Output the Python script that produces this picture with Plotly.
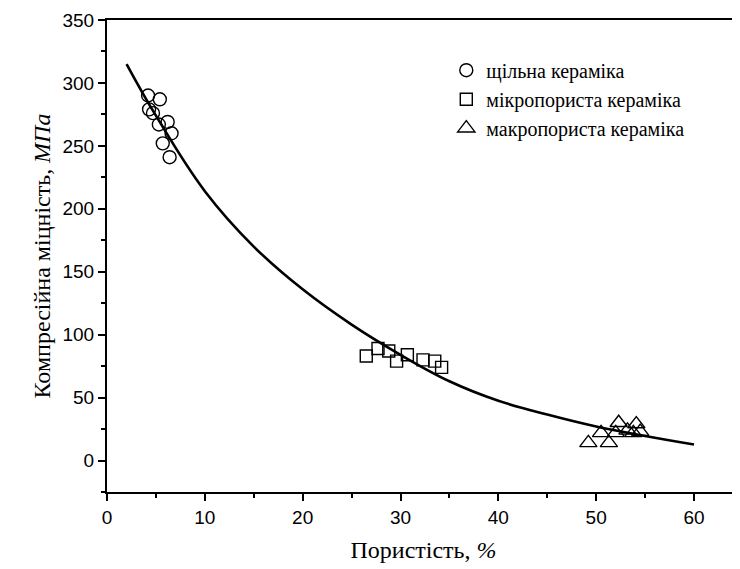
import plotly.graph_objects as go

# щільна кераміка (circles)
dense_x = [4.2, 5.4, 4.3, 4.7, 5.3, 6.2, 6.6, 5.7, 6.4]
dense_y = [290, 287, 279, 276, 267, 269, 260, 252, 241]

# мікропориста кераміка (squares)
micro_x = [26.5, 27.7, 28.8, 29.6, 30.7, 32.3, 33.5, 34.2]
micro_y = [83, 89, 87, 79, 84, 80, 79, 74]

# макропориста кераміка (triangles)
macro_x = [49.2, 50.5, 51.3, 52.3, 52.0, 53.2, 54.1, 53.8, 54.5]
macro_y = [14, 22, 14, 30, 22, 24, 29, 22, 23]

# fitted curve
fit_x = [2, 5, 10, 15, 20, 25, 30, 35, 40, 45, 50, 55, 60]
fit_y = [315, 274, 214, 170, 136, 108, 84, 63, 47.5, 36.5, 27, 19.5, 12.7]

serif = "Liberation Serif"
sans = "Liberation Sans"

fig = go.Figure()

fig.add_trace(go.Scatter(
    x=fit_x, y=fit_y, mode="lines",
    line=dict(color="black", width=2.6, shape="spline", smoothing=1.1),
    showlegend=False, hoverinfo="skip"
))

fig.add_trace(go.Scatter(
    x=dense_x, y=dense_y, mode="markers", name="щільна кераміка",
    marker=dict(symbol="circle-open", size=13, color="black", line=dict(width=1.4))
))
fig.add_trace(go.Scatter(
    x=micro_x, y=micro_y, mode="markers", name="мікропориста кераміка",
    marker=dict(symbol="square-open", size=12, color="black", line=dict(width=1.4))
))
fig.add_trace(go.Scatter(
    x=macro_x, y=macro_y, mode="markers", name="макропориста кераміка",
    marker=dict(symbol="triangle-up-open", size=15, color="black", line=dict(width=1.4))
))

# page body has an 8px margin, so the figure is a bit smaller than the window
fig.update_layout(
    width=732, height=561,
    margin=dict(l=99, r=0, t=12, b=77),
    paper_bgcolor="white", plot_bgcolor="white",
    legend=dict(
        x=0.536, y=0.935, xanchor="left", yanchor="top",
        font=dict(family=serif, size=20, color="black"),
        bgcolor="rgba(0,0,0,0)", tracegroupgap=0, itemwidth=30
    ),
    xaxis=dict(
        range=[0, 64.7], showgrid=False, zeroline=False,
        showline=True, linecolor="black", linewidth=2, mirror=True,
        ticks="outside", ticklen=7, tickwidth=2, tickcolor="black",
        dtick=10, tick0=0,
        minor=dict(dtick=5, ticks="outside", ticklen=4, tickwidth=2, tickcolor="black"),
        tickfont=dict(family=sans, size=19, color="black"),
        title=dict(text="Пористість, <i>%</i>", font=dict(family=serif, size=24, color="black"),
                   standoff=14),
    ),
    yaxis=dict(
        range=[-25, 350], showgrid=False, zeroline=False,
        showline=True, linecolor="black", linewidth=2,
        ticks="outside", ticklen=7, tickwidth=2, tickcolor="black",
        dtick=50, tick0=0,
        minor=dict(dtick=25, ticks="outside", ticklen=4, tickwidth=2, tickcolor="black"),
        tickfont=dict(family=sans, size=19, color="black"),
        title=dict(text="Компресійна міцність, <i>МПа</i>",
                   font=dict(family=serif, size=24, color="black"), standoff=5),
    ),
)

fig.write_html("out.html")
